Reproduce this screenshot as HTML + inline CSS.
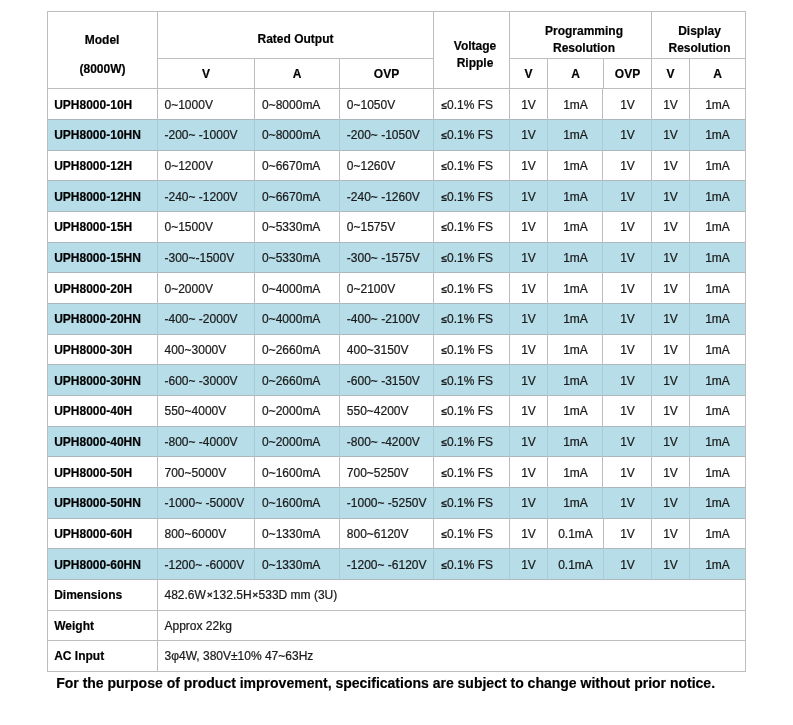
<!DOCTYPE html>
<html><head><meta charset="utf-8"><title>UPH8000 Specifications</title>
<style>
html,body{margin:0;padding:0;background:#fff;}
body{width:793px;height:725px;position:relative;overflow:hidden;font-family:"Liberation Sans",sans-serif;color:#1a1a1a;}
svg{position:absolute;left:0;top:0;}
#txt{position:absolute;left:0;top:0;width:793px;height:725px;will-change:transform;}
.t{position:absolute;font-size:12px;line-height:14px;white-space:nowrap;-webkit-text-stroke:0.22px #1a1a1a;}
.b{font-weight:bold;color:#000;-webkit-text-stroke:0.18px #000;}
.le{display:inline-block;width:6.59px;text-align:right;font-weight:bold;font-size:10px;}
.x{display:inline-block;width:7.01px;text-align:center;font-weight:bold;font-size:9.5px;position:relative;top:-1px;left:0.3px;}
.note{position:absolute;left:56.2px;top:674.6px;font-size:14px;line-height:16px;font-weight:bold;white-space:nowrap;color:#000;-webkit-text-stroke:0.18px #000;}
</style></head><body>
<svg width="793" height="725" viewBox="0 0 793 725">
<rect x="47" y="119.00" width="699" height="31.00" fill="#b6dde8"/>
<rect x="47" y="180.00" width="699" height="31.00" fill="#b6dde8"/>
<rect x="47" y="242.00" width="699" height="30.00" fill="#b6dde8"/>
<rect x="47" y="303.00" width="699" height="31.00" fill="#b6dde8"/>
<rect x="47" y="364.00" width="699" height="31.00" fill="#b6dde8"/>
<rect x="47" y="426.00" width="699" height="30.00" fill="#b6dde8"/>
<rect x="47" y="487.00" width="699" height="31.00" fill="#b6dde8"/>
<rect x="47" y="548.00" width="699" height="31.00" fill="#b6dde8"/>
<rect x="47" y="11.00" width="699" height="1" fill="#bdbdbd"/>
<rect x="157" y="58.00" width="277" height="1" fill="#bdbdbd"/>
<rect x="509" y="58.00" width="237" height="1" fill="#bdbdbd"/>
<rect x="47" y="88.00" width="699" height="1" fill="#bdbdbd"/>
<rect x="47" y="119.00" width="699" height="1" fill="#aeb8bc"/>
<rect x="47" y="150.00" width="699" height="1" fill="#aeb8bc"/>
<rect x="47" y="180.00" width="699" height="1" fill="#aeb8bc"/>
<rect x="47" y="211.00" width="699" height="1" fill="#aeb8bc"/>
<rect x="47" y="242.00" width="699" height="1" fill="#aeb8bc"/>
<rect x="47" y="272.00" width="699" height="1" fill="#aeb8bc"/>
<rect x="47" y="303.00" width="699" height="1" fill="#aeb8bc"/>
<rect x="47" y="334.00" width="699" height="1" fill="#aeb8bc"/>
<rect x="47" y="364.00" width="699" height="1" fill="#aeb8bc"/>
<rect x="47" y="395.00" width="699" height="1" fill="#aeb8bc"/>
<rect x="47" y="426.00" width="699" height="1" fill="#aeb8bc"/>
<rect x="47" y="456.00" width="699" height="1" fill="#aeb8bc"/>
<rect x="47" y="487.00" width="699" height="1" fill="#aeb8bc"/>
<rect x="47" y="518.00" width="699" height="1" fill="#aeb8bc"/>
<rect x="47" y="548.00" width="699" height="1" fill="#aeb8bc"/>
<rect x="47" y="579.00" width="699" height="1" fill="#aeb8bc"/>
<rect x="47" y="610.00" width="699" height="1" fill="#bdbdbd"/>
<rect x="47" y="640.00" width="699" height="1" fill="#bdbdbd"/>
<rect x="47" y="671.00" width="699" height="1" fill="#bdbdbd"/>
<rect x="47" y="11.00" width="1" height="661.00" fill="#bdbdbd"/>
<rect x="745" y="11.00" width="1" height="661.00" fill="#bdbdbd"/>
<rect x="157" y="11.00" width="1" height="661.00" fill="#bdbdbd"/>
<rect x="433" y="11.00" width="1" height="568.00" fill="#bdbdbd"/>
<rect x="509" y="11.00" width="1" height="568.00" fill="#bdbdbd"/>
<rect x="651" y="11.00" width="1" height="568.00" fill="#bdbdbd"/>
<rect x="254" y="58.00" width="1" height="521.00" fill="#bdbdbd"/>
<rect x="339" y="58.00" width="1" height="521.00" fill="#bdbdbd"/>
<rect x="547" y="58.00" width="1" height="521.00" fill="#bdbdbd"/>
<rect x="689" y="58.00" width="1" height="521.00" fill="#bdbdbd"/>
<rect x="603" y="58.00" width="1" height="30.00" fill="#bdbdbd"/>
<rect x="602" y="88.00" width="1" height="430.00" fill="#bdbdbd"/>
<rect x="603" y="518.00" width="1" height="61.00" fill="#bdbdbd"/>
<rect x="157" y="120.00" width="1" height="30.00" fill="#abccd6"/>
<rect x="254" y="120.00" width="1" height="30.00" fill="#abccd6"/>
<rect x="339" y="120.00" width="1" height="30.00" fill="#abccd6"/>
<rect x="433" y="120.00" width="1" height="30.00" fill="#abccd6"/>
<rect x="509" y="120.00" width="1" height="30.00" fill="#abccd6"/>
<rect x="547" y="120.00" width="1" height="30.00" fill="#abccd6"/>
<rect x="602" y="120.00" width="1" height="30.00" fill="#abccd6"/>
<rect x="651" y="120.00" width="1" height="30.00" fill="#abccd6"/>
<rect x="689" y="120.00" width="1" height="30.00" fill="#abccd6"/>
<rect x="157" y="181.00" width="1" height="30.00" fill="#abccd6"/>
<rect x="254" y="181.00" width="1" height="30.00" fill="#abccd6"/>
<rect x="339" y="181.00" width="1" height="30.00" fill="#abccd6"/>
<rect x="433" y="181.00" width="1" height="30.00" fill="#abccd6"/>
<rect x="509" y="181.00" width="1" height="30.00" fill="#abccd6"/>
<rect x="547" y="181.00" width="1" height="30.00" fill="#abccd6"/>
<rect x="602" y="181.00" width="1" height="30.00" fill="#abccd6"/>
<rect x="651" y="181.00" width="1" height="30.00" fill="#abccd6"/>
<rect x="689" y="181.00" width="1" height="30.00" fill="#abccd6"/>
<rect x="157" y="243.00" width="1" height="29.00" fill="#abccd6"/>
<rect x="254" y="243.00" width="1" height="29.00" fill="#abccd6"/>
<rect x="339" y="243.00" width="1" height="29.00" fill="#abccd6"/>
<rect x="433" y="243.00" width="1" height="29.00" fill="#abccd6"/>
<rect x="509" y="243.00" width="1" height="29.00" fill="#abccd6"/>
<rect x="547" y="243.00" width="1" height="29.00" fill="#abccd6"/>
<rect x="602" y="243.00" width="1" height="29.00" fill="#abccd6"/>
<rect x="651" y="243.00" width="1" height="29.00" fill="#abccd6"/>
<rect x="689" y="243.00" width="1" height="29.00" fill="#abccd6"/>
<rect x="157" y="304.00" width="1" height="30.00" fill="#abccd6"/>
<rect x="254" y="304.00" width="1" height="30.00" fill="#abccd6"/>
<rect x="339" y="304.00" width="1" height="30.00" fill="#abccd6"/>
<rect x="433" y="304.00" width="1" height="30.00" fill="#abccd6"/>
<rect x="509" y="304.00" width="1" height="30.00" fill="#abccd6"/>
<rect x="547" y="304.00" width="1" height="30.00" fill="#abccd6"/>
<rect x="602" y="304.00" width="1" height="30.00" fill="#abccd6"/>
<rect x="651" y="304.00" width="1" height="30.00" fill="#abccd6"/>
<rect x="689" y="304.00" width="1" height="30.00" fill="#abccd6"/>
<rect x="157" y="365.00" width="1" height="30.00" fill="#abccd6"/>
<rect x="254" y="365.00" width="1" height="30.00" fill="#abccd6"/>
<rect x="339" y="365.00" width="1" height="30.00" fill="#abccd6"/>
<rect x="433" y="365.00" width="1" height="30.00" fill="#abccd6"/>
<rect x="509" y="365.00" width="1" height="30.00" fill="#abccd6"/>
<rect x="547" y="365.00" width="1" height="30.00" fill="#abccd6"/>
<rect x="602" y="365.00" width="1" height="30.00" fill="#abccd6"/>
<rect x="651" y="365.00" width="1" height="30.00" fill="#abccd6"/>
<rect x="689" y="365.00" width="1" height="30.00" fill="#abccd6"/>
<rect x="157" y="427.00" width="1" height="29.00" fill="#abccd6"/>
<rect x="254" y="427.00" width="1" height="29.00" fill="#abccd6"/>
<rect x="339" y="427.00" width="1" height="29.00" fill="#abccd6"/>
<rect x="433" y="427.00" width="1" height="29.00" fill="#abccd6"/>
<rect x="509" y="427.00" width="1" height="29.00" fill="#abccd6"/>
<rect x="547" y="427.00" width="1" height="29.00" fill="#abccd6"/>
<rect x="602" y="427.00" width="1" height="29.00" fill="#abccd6"/>
<rect x="651" y="427.00" width="1" height="29.00" fill="#abccd6"/>
<rect x="689" y="427.00" width="1" height="29.00" fill="#abccd6"/>
<rect x="157" y="488.00" width="1" height="30.00" fill="#abccd6"/>
<rect x="254" y="488.00" width="1" height="30.00" fill="#abccd6"/>
<rect x="339" y="488.00" width="1" height="30.00" fill="#abccd6"/>
<rect x="433" y="488.00" width="1" height="30.00" fill="#abccd6"/>
<rect x="509" y="488.00" width="1" height="30.00" fill="#abccd6"/>
<rect x="547" y="488.00" width="1" height="30.00" fill="#abccd6"/>
<rect x="602" y="488.00" width="1" height="30.00" fill="#abccd6"/>
<rect x="651" y="488.00" width="1" height="30.00" fill="#abccd6"/>
<rect x="689" y="488.00" width="1" height="30.00" fill="#abccd6"/>
<rect x="157" y="549.00" width="1" height="30.00" fill="#abccd6"/>
<rect x="254" y="549.00" width="1" height="30.00" fill="#abccd6"/>
<rect x="339" y="549.00" width="1" height="30.00" fill="#abccd6"/>
<rect x="433" y="549.00" width="1" height="30.00" fill="#abccd6"/>
<rect x="509" y="549.00" width="1" height="30.00" fill="#abccd6"/>
<rect x="547" y="549.00" width="1" height="30.00" fill="#abccd6"/>
<rect x="603" y="549.00" width="1" height="30.00" fill="#abccd6"/>
<rect x="651" y="549.00" width="1" height="30.00" fill="#abccd6"/>
<rect x="689" y="549.00" width="1" height="30.00" fill="#abccd6"/>
</svg>
<div id="txt">
<div class="t b" style="left:47.6px;top:32.90px;width:109px;text-align:center;">Model</div>
<div class="t b" style="left:48px;top:61.70px;width:109px;text-align:center;">(8000W)</div>
<div class="t b" style="left:158px;top:31.90px;width:275px;text-align:center;">Rated Output</div>
<div class="t b" style="left:158px;top:66.90px;width:96px;text-align:center;">V</div>
<div class="t b" style="left:255px;top:66.90px;width:84px;text-align:center;">A</div>
<div class="t b" style="left:340px;top:66.90px;width:93px;text-align:center;">OVP</div>
<div class="t b" style="left:437.5px;top:39.40px;width:75px;text-align:center;">Voltage</div>
<div class="t b" style="left:437.5px;top:55.50px;width:75px;text-align:center;">Ripple</div>
<div class="t b" style="left:513.5px;top:24.30px;width:141px;text-align:center;">Programming</div>
<div class="t b" style="left:513.5px;top:40.80px;width:141px;text-align:center;">Resolution</div>
<div class="t b" style="left:510px;top:66.90px;width:37px;text-align:center;">V</div>
<div class="t b" style="left:548px;top:66.90px;width:55px;text-align:center;">A</div>
<div class="t b" style="left:604px;top:66.90px;width:47px;text-align:center;">OVP</div>
<div class="t b" style="left:653px;top:24.30px;width:93px;text-align:center;">Display</div>
<div class="t b" style="left:653px;top:40.80px;width:93px;text-align:center;">Resolution</div>
<div class="t b" style="left:652px;top:66.90px;width:37px;text-align:center;">V</div>
<div class="t b" style="left:690px;top:66.90px;width:55px;text-align:center;">A</div>
<div class="t b" style="left:54.2px;top:97.70px;">UPH8000-10H</div>
<div class="t " style="left:164.5px;top:97.70px;">0~1000V</div>
<div class="t " style="left:262px;top:97.70px;">0~8000mA</div>
<div class="t " style="left:346.8px;top:97.70px;">0~1050V</div>
<div class="t " style="left:440.5px;top:97.70px;"><span class="le">≤</span>0.1% FS</div>
<div class="t " style="left:510px;top:97.70px;width:37px;text-align:center;">1V</div>
<div class="t " style="left:548px;top:97.70px;width:55px;text-align:center;">1mA</div>
<div class="t " style="left:604px;top:97.70px;width:47px;text-align:center;">1V</div>
<div class="t " style="left:652px;top:97.70px;width:37px;text-align:center;">1V</div>
<div class="t " style="left:690px;top:97.70px;width:55px;text-align:center;">1mA</div>
<div class="t b" style="left:54.2px;top:128.37px;">UPH8000-10HN</div>
<div class="t " style="left:164.5px;top:128.37px;">-200~ -1000V</div>
<div class="t " style="left:262px;top:128.37px;">0~8000mA</div>
<div class="t " style="left:346.8px;top:128.37px;">-200~ -1050V</div>
<div class="t " style="left:440.5px;top:128.37px;"><span class="le">≤</span>0.1% FS</div>
<div class="t " style="left:510px;top:128.37px;width:37px;text-align:center;">1V</div>
<div class="t " style="left:548px;top:128.37px;width:55px;text-align:center;">1mA</div>
<div class="t " style="left:604px;top:128.37px;width:47px;text-align:center;">1V</div>
<div class="t " style="left:652px;top:128.37px;width:37px;text-align:center;">1V</div>
<div class="t " style="left:690px;top:128.37px;width:55px;text-align:center;">1mA</div>
<div class="t b" style="left:54.2px;top:159.03px;">UPH8000-12H</div>
<div class="t " style="left:164.5px;top:159.03px;">0~1200V</div>
<div class="t " style="left:262px;top:159.03px;">0~6670mA</div>
<div class="t " style="left:346.8px;top:159.03px;">0~1260V</div>
<div class="t " style="left:440.5px;top:159.03px;"><span class="le">≤</span>0.1% FS</div>
<div class="t " style="left:510px;top:159.03px;width:37px;text-align:center;">1V</div>
<div class="t " style="left:548px;top:159.03px;width:55px;text-align:center;">1mA</div>
<div class="t " style="left:604px;top:159.03px;width:47px;text-align:center;">1V</div>
<div class="t " style="left:652px;top:159.03px;width:37px;text-align:center;">1V</div>
<div class="t " style="left:690px;top:159.03px;width:55px;text-align:center;">1mA</div>
<div class="t b" style="left:54.2px;top:189.70px;">UPH8000-12HN</div>
<div class="t " style="left:164.5px;top:189.70px;">-240~ -1200V</div>
<div class="t " style="left:262px;top:189.70px;">0~6670mA</div>
<div class="t " style="left:346.8px;top:189.70px;">-240~ -1260V</div>
<div class="t " style="left:440.5px;top:189.70px;"><span class="le">≤</span>0.1% FS</div>
<div class="t " style="left:510px;top:189.70px;width:37px;text-align:center;">1V</div>
<div class="t " style="left:548px;top:189.70px;width:55px;text-align:center;">1mA</div>
<div class="t " style="left:604px;top:189.70px;width:47px;text-align:center;">1V</div>
<div class="t " style="left:652px;top:189.70px;width:37px;text-align:center;">1V</div>
<div class="t " style="left:690px;top:189.70px;width:55px;text-align:center;">1mA</div>
<div class="t b" style="left:54.2px;top:220.37px;">UPH8000-15H</div>
<div class="t " style="left:164.5px;top:220.37px;">0~1500V</div>
<div class="t " style="left:262px;top:220.37px;">0~5330mA</div>
<div class="t " style="left:346.8px;top:220.37px;">0~1575V</div>
<div class="t " style="left:440.5px;top:220.37px;"><span class="le">≤</span>0.1% FS</div>
<div class="t " style="left:510px;top:220.37px;width:37px;text-align:center;">1V</div>
<div class="t " style="left:548px;top:220.37px;width:55px;text-align:center;">1mA</div>
<div class="t " style="left:604px;top:220.37px;width:47px;text-align:center;">1V</div>
<div class="t " style="left:652px;top:220.37px;width:37px;text-align:center;">1V</div>
<div class="t " style="left:690px;top:220.37px;width:55px;text-align:center;">1mA</div>
<div class="t b" style="left:54.2px;top:251.03px;">UPH8000-15HN</div>
<div class="t " style="left:164.5px;top:251.03px;">-300~-1500V</div>
<div class="t " style="left:262px;top:251.03px;">0~5330mA</div>
<div class="t " style="left:346.8px;top:251.03px;">-300~ -1575V</div>
<div class="t " style="left:440.5px;top:251.03px;"><span class="le">≤</span>0.1% FS</div>
<div class="t " style="left:510px;top:251.03px;width:37px;text-align:center;">1V</div>
<div class="t " style="left:548px;top:251.03px;width:55px;text-align:center;">1mA</div>
<div class="t " style="left:604px;top:251.03px;width:47px;text-align:center;">1V</div>
<div class="t " style="left:652px;top:251.03px;width:37px;text-align:center;">1V</div>
<div class="t " style="left:690px;top:251.03px;width:55px;text-align:center;">1mA</div>
<div class="t b" style="left:54.2px;top:281.70px;">UPH8000-20H</div>
<div class="t " style="left:164.5px;top:281.70px;">0~2000V</div>
<div class="t " style="left:262px;top:281.70px;">0~4000mA</div>
<div class="t " style="left:346.8px;top:281.70px;">0~2100V</div>
<div class="t " style="left:440.5px;top:281.70px;"><span class="le">≤</span>0.1% FS</div>
<div class="t " style="left:510px;top:281.70px;width:37px;text-align:center;">1V</div>
<div class="t " style="left:548px;top:281.70px;width:55px;text-align:center;">1mA</div>
<div class="t " style="left:604px;top:281.70px;width:47px;text-align:center;">1V</div>
<div class="t " style="left:652px;top:281.70px;width:37px;text-align:center;">1V</div>
<div class="t " style="left:690px;top:281.70px;width:55px;text-align:center;">1mA</div>
<div class="t b" style="left:54.2px;top:312.37px;">UPH8000-20HN</div>
<div class="t " style="left:164.5px;top:312.37px;">-400~ -2000V</div>
<div class="t " style="left:262px;top:312.37px;">0~4000mA</div>
<div class="t " style="left:346.8px;top:312.37px;">-400~ -2100V</div>
<div class="t " style="left:440.5px;top:312.37px;"><span class="le">≤</span>0.1% FS</div>
<div class="t " style="left:510px;top:312.37px;width:37px;text-align:center;">1V</div>
<div class="t " style="left:548px;top:312.37px;width:55px;text-align:center;">1mA</div>
<div class="t " style="left:604px;top:312.37px;width:47px;text-align:center;">1V</div>
<div class="t " style="left:652px;top:312.37px;width:37px;text-align:center;">1V</div>
<div class="t " style="left:690px;top:312.37px;width:55px;text-align:center;">1mA</div>
<div class="t b" style="left:54.2px;top:343.03px;">UPH8000-30H</div>
<div class="t " style="left:164.5px;top:343.03px;">400~3000V</div>
<div class="t " style="left:262px;top:343.03px;">0~2660mA</div>
<div class="t " style="left:346.8px;top:343.03px;">400~3150V</div>
<div class="t " style="left:440.5px;top:343.03px;"><span class="le">≤</span>0.1% FS</div>
<div class="t " style="left:510px;top:343.03px;width:37px;text-align:center;">1V</div>
<div class="t " style="left:548px;top:343.03px;width:55px;text-align:center;">1mA</div>
<div class="t " style="left:604px;top:343.03px;width:47px;text-align:center;">1V</div>
<div class="t " style="left:652px;top:343.03px;width:37px;text-align:center;">1V</div>
<div class="t " style="left:690px;top:343.03px;width:55px;text-align:center;">1mA</div>
<div class="t b" style="left:54.2px;top:373.70px;">UPH8000-30HN</div>
<div class="t " style="left:164.5px;top:373.70px;">-600~ -3000V</div>
<div class="t " style="left:262px;top:373.70px;">0~2660mA</div>
<div class="t " style="left:346.8px;top:373.70px;">-600~ -3150V</div>
<div class="t " style="left:440.5px;top:373.70px;"><span class="le">≤</span>0.1% FS</div>
<div class="t " style="left:510px;top:373.70px;width:37px;text-align:center;">1V</div>
<div class="t " style="left:548px;top:373.70px;width:55px;text-align:center;">1mA</div>
<div class="t " style="left:604px;top:373.70px;width:47px;text-align:center;">1V</div>
<div class="t " style="left:652px;top:373.70px;width:37px;text-align:center;">1V</div>
<div class="t " style="left:690px;top:373.70px;width:55px;text-align:center;">1mA</div>
<div class="t b" style="left:54.2px;top:404.37px;">UPH8000-40H</div>
<div class="t " style="left:164.5px;top:404.37px;">550~4000V</div>
<div class="t " style="left:262px;top:404.37px;">0~2000mA</div>
<div class="t " style="left:346.8px;top:404.37px;">550~4200V</div>
<div class="t " style="left:440.5px;top:404.37px;"><span class="le">≤</span>0.1% FS</div>
<div class="t " style="left:510px;top:404.37px;width:37px;text-align:center;">1V</div>
<div class="t " style="left:548px;top:404.37px;width:55px;text-align:center;">1mA</div>
<div class="t " style="left:604px;top:404.37px;width:47px;text-align:center;">1V</div>
<div class="t " style="left:652px;top:404.37px;width:37px;text-align:center;">1V</div>
<div class="t " style="left:690px;top:404.37px;width:55px;text-align:center;">1mA</div>
<div class="t b" style="left:54.2px;top:435.03px;">UPH8000-40HN</div>
<div class="t " style="left:164.5px;top:435.03px;">-800~ -4000V</div>
<div class="t " style="left:262px;top:435.03px;">0~2000mA</div>
<div class="t " style="left:346.8px;top:435.03px;">-800~ -4200V</div>
<div class="t " style="left:440.5px;top:435.03px;"><span class="le">≤</span>0.1% FS</div>
<div class="t " style="left:510px;top:435.03px;width:37px;text-align:center;">1V</div>
<div class="t " style="left:548px;top:435.03px;width:55px;text-align:center;">1mA</div>
<div class="t " style="left:604px;top:435.03px;width:47px;text-align:center;">1V</div>
<div class="t " style="left:652px;top:435.03px;width:37px;text-align:center;">1V</div>
<div class="t " style="left:690px;top:435.03px;width:55px;text-align:center;">1mA</div>
<div class="t b" style="left:54.2px;top:465.70px;">UPH8000-50H</div>
<div class="t " style="left:164.5px;top:465.70px;">700~5000V</div>
<div class="t " style="left:262px;top:465.70px;">0~1600mA</div>
<div class="t " style="left:346.8px;top:465.70px;">700~5250V</div>
<div class="t " style="left:440.5px;top:465.70px;"><span class="le">≤</span>0.1% FS</div>
<div class="t " style="left:510px;top:465.70px;width:37px;text-align:center;">1V</div>
<div class="t " style="left:548px;top:465.70px;width:55px;text-align:center;">1mA</div>
<div class="t " style="left:604px;top:465.70px;width:47px;text-align:center;">1V</div>
<div class="t " style="left:652px;top:465.70px;width:37px;text-align:center;">1V</div>
<div class="t " style="left:690px;top:465.70px;width:55px;text-align:center;">1mA</div>
<div class="t b" style="left:54.2px;top:496.37px;">UPH8000-50HN</div>
<div class="t " style="left:164.5px;top:496.37px;">-1000~ -5000V</div>
<div class="t " style="left:262px;top:496.37px;">0~1600mA</div>
<div class="t " style="left:346.8px;top:496.37px;">-1000~ -5250V</div>
<div class="t " style="left:440.5px;top:496.37px;"><span class="le">≤</span>0.1% FS</div>
<div class="t " style="left:510px;top:496.37px;width:37px;text-align:center;">1V</div>
<div class="t " style="left:548px;top:496.37px;width:55px;text-align:center;">1mA</div>
<div class="t " style="left:604px;top:496.37px;width:47px;text-align:center;">1V</div>
<div class="t " style="left:652px;top:496.37px;width:37px;text-align:center;">1V</div>
<div class="t " style="left:690px;top:496.37px;width:55px;text-align:center;">1mA</div>
<div class="t b" style="left:54.2px;top:527.03px;">UPH8000-60H</div>
<div class="t " style="left:164.5px;top:527.03px;">800~6000V</div>
<div class="t " style="left:262px;top:527.03px;">0~1330mA</div>
<div class="t " style="left:346.8px;top:527.03px;">800~6120V</div>
<div class="t " style="left:440.5px;top:527.03px;"><span class="le">≤</span>0.1% FS</div>
<div class="t " style="left:510px;top:527.03px;width:37px;text-align:center;">1V</div>
<div class="t " style="left:548px;top:527.03px;width:55px;text-align:center;">0.1mA</div>
<div class="t " style="left:604px;top:527.03px;width:47px;text-align:center;">1V</div>
<div class="t " style="left:652px;top:527.03px;width:37px;text-align:center;">1V</div>
<div class="t " style="left:690px;top:527.03px;width:55px;text-align:center;">1mA</div>
<div class="t b" style="left:54.2px;top:557.70px;">UPH8000-60HN</div>
<div class="t " style="left:164.5px;top:557.70px;">-1200~ -6000V</div>
<div class="t " style="left:262px;top:557.70px;">0~1330mA</div>
<div class="t " style="left:346.8px;top:557.70px;">-1200~ -6120V</div>
<div class="t " style="left:440.5px;top:557.70px;"><span class="le">≤</span>0.1% FS</div>
<div class="t " style="left:510px;top:557.70px;width:37px;text-align:center;">1V</div>
<div class="t " style="left:548px;top:557.70px;width:55px;text-align:center;">0.1mA</div>
<div class="t " style="left:604px;top:557.70px;width:47px;text-align:center;">1V</div>
<div class="t " style="left:652px;top:557.70px;width:37px;text-align:center;">1V</div>
<div class="t " style="left:690px;top:557.70px;width:55px;text-align:center;">1mA</div>
<div class="t b" style="left:54.2px;top:588.37px;">Dimensions</div>
<div class="t " style="left:164.5px;top:588.37px;">482.6W<span class="x">×</span>132.5H<span class="x">×</span>533D mm (3U)</div>
<div class="t b" style="left:54.2px;top:619.03px;">Weight</div>
<div class="t " style="left:164.5px;top:619.03px;">Approx 22kg</div>
<div class="t b" style="left:54.2px;top:648.70px;">AC Input</div>
<div class="t " style="left:164.5px;top:648.70px;">3φ4W, 380V±10% 47~63Hz</div>
<div class="note">For the purpose of product improvement, specifications are subject to change without prior notice.</div>
</div>
</body></html>
